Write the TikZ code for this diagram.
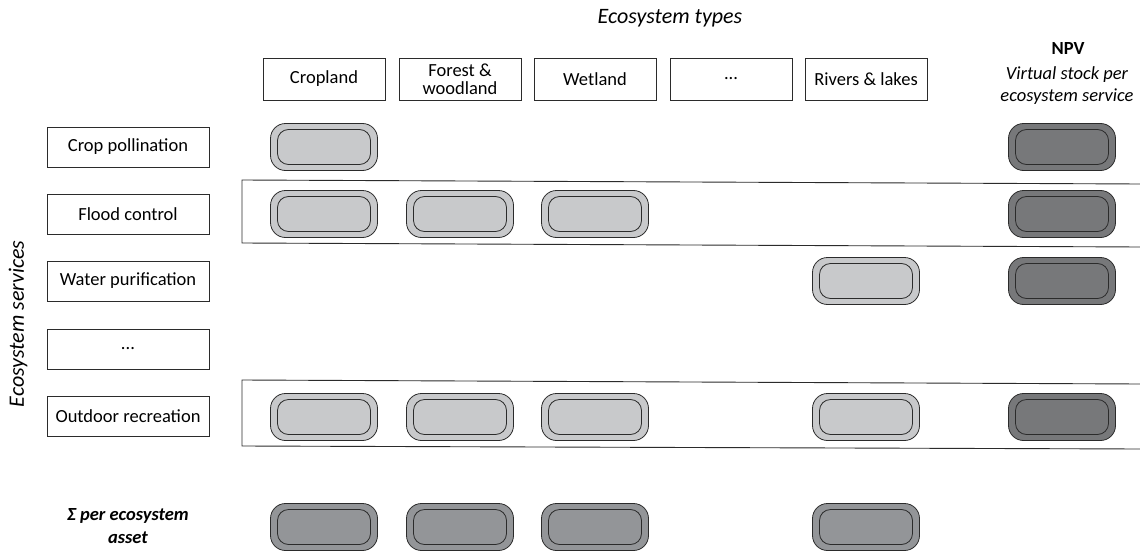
\documentclass[tikz,border=0pt]{standalone}
\usepackage{fontspec}
\setmainfont{Carlito}
\definecolor{lightpill}{HTML}{C8C9CB}
\definecolor{midpill}{HTML}{939598}
\definecolor{darkpill}{HTML}{77787A}
\definecolor{edge}{HTML}{2B2B2B}
\tikzset{
  lbl/.style={draw=edge, line width=0.8pt, fill=white, inner sep=0pt, align=center,
    font=\fontsize{18.5}{18.5}\selectfont},
  colbox/.style={lbl, minimum width=122pt, minimum height=42pt},
  rowbox/.style={lbl, minimum width=162pt, minimum height=40pt},
  pillout/.style={draw=edge, line width=0.8pt, rounded corners=15pt, minimum width=107pt, minimum height=47pt, inner sep=0pt},
  pillin/.style={draw=edge, line width=0.8pt, rounded corners=11pt, minimum width=93pt, minimum height=35pt, inner sep=0pt},
  band/.style={draw=edge, line width=0.9pt},
}
\newcommand{\mypill}[4]{%
  \node[pillout, fill=#4] (#1) at (#2,#3) {};
  \node[pillin, fill=#4] (#1i) at (#2,#3) {};
}
\begin{document}
\begin{tikzpicture}[x=1pt,y=-1pt]
\useasboundingbox (0,0) rectangle (1140,551);
% bands
\draw[band] (1141,184) -- (242,180) -- (242,243) -- (1141,247);
\draw[band] (1141,384) -- (242,380) -- (242,446) -- (1141,449);
% headings
\node[font=\fontsize{22}{22}\selectfont\itshape] (ethead) at (670,18) {Ecosystem types};
\node[font=\fontsize{18.5}{18.5}\selectfont\bfseries] (npv) at (1068,49) {NPV};
\node[font=\fontsize{18.5}{22}\selectfont\itshape, align=center] (npvsub) at (1067,86) {Virtual stock per\\ecosystem service};
\node[font=\fontsize{22}{22}\selectfont\itshape, rotate=90] (eshead) at (18,324) {Ecosystem services};
\node[font=\fontsize{18.5}{23}\selectfont\bfseries\itshape, align=center] (sigma) at (128,526) {Σ per ecosystem\\asset};
% column boxes
\node[colbox] (crop) at (324,79) {Cropland};
\node[colbox, font=\fontsize{18.5}{18}\selectfont] (forest) at (460,79) {Forest \&\\woodland};
\node[colbox] (wet) at (595,79) {Wetland};
\node[colbox] (cdots) at (731,79) {...};
\node[colbox] (river) at (866,79) {Rivers \& lakes};
% row boxes
\node[rowbox] (poll) at (128,147) {Crop pollination};
\node[rowbox] (flood) at (128,214) {Flood control};
\node[rowbox] (water) at (128,281) {Water purification};
\node[rowbox] (rdots) at (128,349) {...};
\node[rowbox] (recr) at (128,416) {Outdoor recreation};
% pills
\mypill{p11}{324}{147}{lightpill}
\mypill{p1n}{1062}{147}{darkpill}
\mypill{p21}{324}{214}{lightpill}
\mypill{p22}{460}{214}{lightpill}
\mypill{p23}{595}{214}{lightpill}
\mypill{p2n}{1062}{214}{darkpill}
\mypill{p35}{866}{281}{lightpill}
\mypill{p3n}{1062}{281}{darkpill}
\mypill{p51}{324}{417}{lightpill}
\mypill{p52}{460}{417}{lightpill}
\mypill{p53}{595}{417}{lightpill}
\mypill{p55}{866}{417}{lightpill}
\mypill{p5n}{1062}{417}{darkpill}
\mypill{s1}{324}{527}{midpill}
\mypill{s2}{460}{527}{midpill}
\mypill{s3}{595}{527}{midpill}
\mypill{s5}{866}{527}{midpill}
\end{tikzpicture}
\end{document}
